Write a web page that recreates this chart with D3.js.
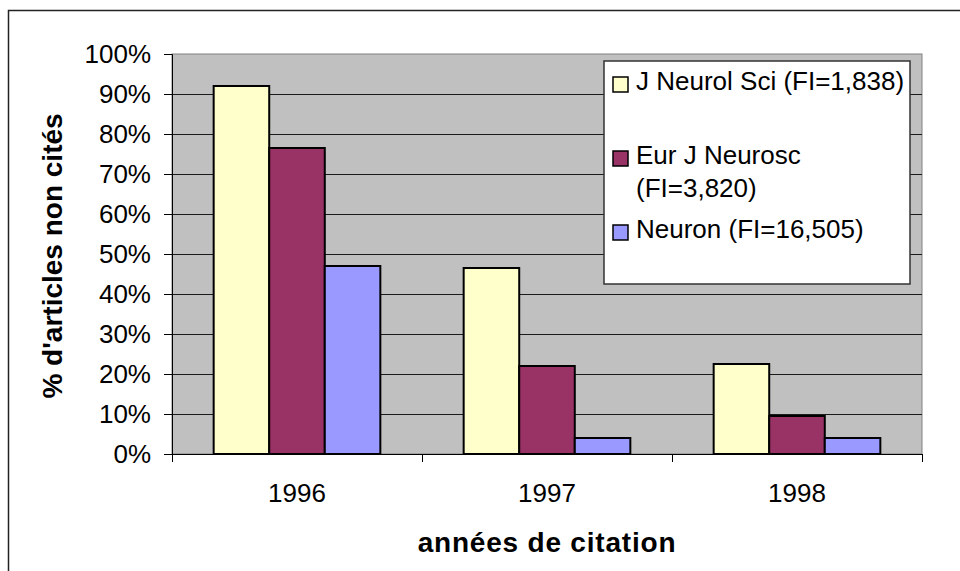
<!DOCTYPE html>
<html>
<head>
<meta charset="utf-8">
<script src="https://cdn.jsdelivr.net/npm/d3@7"></script>
<style>
  body { margin: 0; background: #fff; }
  text { font-family: "Liberation Sans", Arial, sans-serif; fill: #000; }
</style>
</head>
<body>
<div id="chart"></div>
<script>
// data
var years = ["1996", "1997", "1998"];
var seriesNames = ["J Neurol Sci (FI=1,838)", "Eur J Neurosc (FI=3,820)", "Neuron (FI=16,505)"];
var legendLines = [["J Neurol Sci (FI=1,838)"], ["Eur J Neurosc", "(FI=3,820)"], ["Neuron (FI=16,505)"]];
var jNeurolSci = [92, 46.5, 22.5];
var eurJNeurosc = [76.5, 22, 9.5];
var neuron = [47, 4, 4];
var yTicks = [0, 10, 20, 30, 40, 50, 60, 70, 80, 90, 100];
var colors = ["#FFFFCC", "#993366", "#9999FF"];

var svgWidth = 960;
var svgHeight = 571;

var margin = {
    top: 54,
    left: 172
};
var width = 750;
var height = 400;

var svg = d3.select("#chart")
    .append("svg")
    .attr("width", svgWidth)
    .attr("height", svgHeight);

// outer frame (runs off the window on right and bottom)
svg.append("rect")
    .attr("x", 8.5)
    .attr("y", 10.5)
    .attr("width", 1200)
    .attr("height", 1200)
    .attr("fill", "none")
    .attr("stroke", "#222")
    .attr("stroke-width", 1.5);

var chartGroup = svg.append("g")
    .attr("transform", `translate(${margin.left}, ${margin.top})`);

var values = [jNeurolSci, eurJNeurosc, neuron];
var table = years.map(function(y, i) {
    return { year: y, vals: values.map(function(s, j) { return { k: j, v: s[i] }; }) };
});

var x0 = d3.scaleBand()
    .domain(years)
    .range([0, width]);

var x1 = d3.scaleBand()
    .domain([0, 1, 2])
    .range([0, x0.bandwidth()])
    .paddingInner(0)
    .paddingOuter(0.75);

var y = d3.scaleLinear()
    .domain([0, 100])
    .range([height, 0]);

// plot area
chartGroup.append("rect")
    .attr("width", width)
    .attr("height", height)
    .attr("fill", "#C0C0C0")
    .attr("stroke", "#808080")
    .attr("stroke-width", 1);

// gridlines
chartGroup.selectAll(".grid")
    .data(yTicks.slice(1, -1))
    .enter()
    .append("line")
    .attr("x1", 0)
    .attr("x2", width)
    .attr("y1", d => Math.round(y(d)) + 0.5)
    .attr("y2", d => Math.round(y(d)) + 0.5)
    .attr("stroke", "#1a1a1a")
    .attr("stroke-width", 1);

// bars
var groups = chartGroup.selectAll(".yr")
    .data(table)
    .enter()
    .append("g")
    .attr("transform", d => `translate(${x0(d.year)}, 0)`);

groups.selectAll("rect")
    .data(d => d.vals)
    .enter()
    .append("rect")
    .attr("x", d => x1(d.k))
    .attr("y", d => y(d.v))
    .attr("width", x1.bandwidth())
    .attr("height", d => height - y(d.v))
    .attr("fill", d => colors[d.k])
    .attr("stroke", "#000")
    .attr("stroke-width", 2);

// axes
var leftAxis = d3.axisLeft(y)
    .tickValues(yTicks)
    .tickSize(8)
    .tickPadding(13)
    .tickFormat(d => d + "%");

var yAxisG = chartGroup.append("g")
    .call(leftAxis);
yAxisG.select(".domain").attr("stroke", "#000");
yAxisG.selectAll("text")
    .style("font-size", "26px")
    .style("font-family", "Liberation Sans, Arial, sans-serif");

var bottomAxis = d3.axisBottom(x0)
    .tickSize(0)
    .tickPadding(30);

var xAxisG = chartGroup.append("g")
    .attr("transform", `translate(0, ${height})`)
    .call(bottomAxis);
xAxisG.select(".domain").attr("stroke", "#000");
xAxisG.selectAll("text")
    .style("font-size", "26px")
    .style("font-family", "Liberation Sans, Arial, sans-serif");

// category separators on the x axis
chartGroup.selectAll(".xtick")
    .data(years.concat(["end"]))
    .enter()
    .append("line")
    .attr("x1", (d, i) => i * x0.step() + 0.5)
    .attr("x2", (d, i) => i * x0.step() + 0.5)
    .attr("y1", height)
    .attr("y2", height + 8)
    .attr("stroke", "#000");

// legend
var legend = chartGroup.append("g")
    .attr("transform", `translate(${604 - margin.left}, ${61 - margin.top})`);

legend.append("rect")
    .attr("width", 306)
    .attr("height", 223)
    .attr("fill", "#fff")
    .attr("stroke", "#333")
    .attr("stroke-width", 1.5);

var swatchTops = [16, 90, 164];
legendLines.forEach(function(lines, i) {
    legend.append("rect")
        .attr("x", 9)
        .attr("y", swatchTops[i])
        .attr("width", 15)
        .attr("height", 15)
        .attr("fill", colors[i])
        .attr("stroke", "#000")
        .attr("stroke-width", 1.5);
    var t = legend.append("text")
        .attr("x", 32)
        .attr("y", swatchTops[i] + 13)
        .style("font-size", "26px");
    lines.forEach(function(l, j) {
        t.append("tspan")
            .attr("x", 32)
            .attr("dy", j === 0 ? 0 : 33)
            .text(l);
    });
});

// axis titles
svg.append("text")
    .attr("transform", "translate(62, 256) rotate(-90)")
    .attr("text-anchor", "middle")
    .style("font-size", "28px")
    .style("font-weight", "bold")
    .text("% d'articles non cités");

svg.append("text")
    .attr("x", margin.left + width / 2)
    .attr("y", 552)
    .attr("text-anchor", "middle")
    .style("font-size", "28px")
    .style("font-weight", "bold")
    .style("letter-spacing", "0.8px")
    .text("années de citation");
</script>
</body>
</html>
